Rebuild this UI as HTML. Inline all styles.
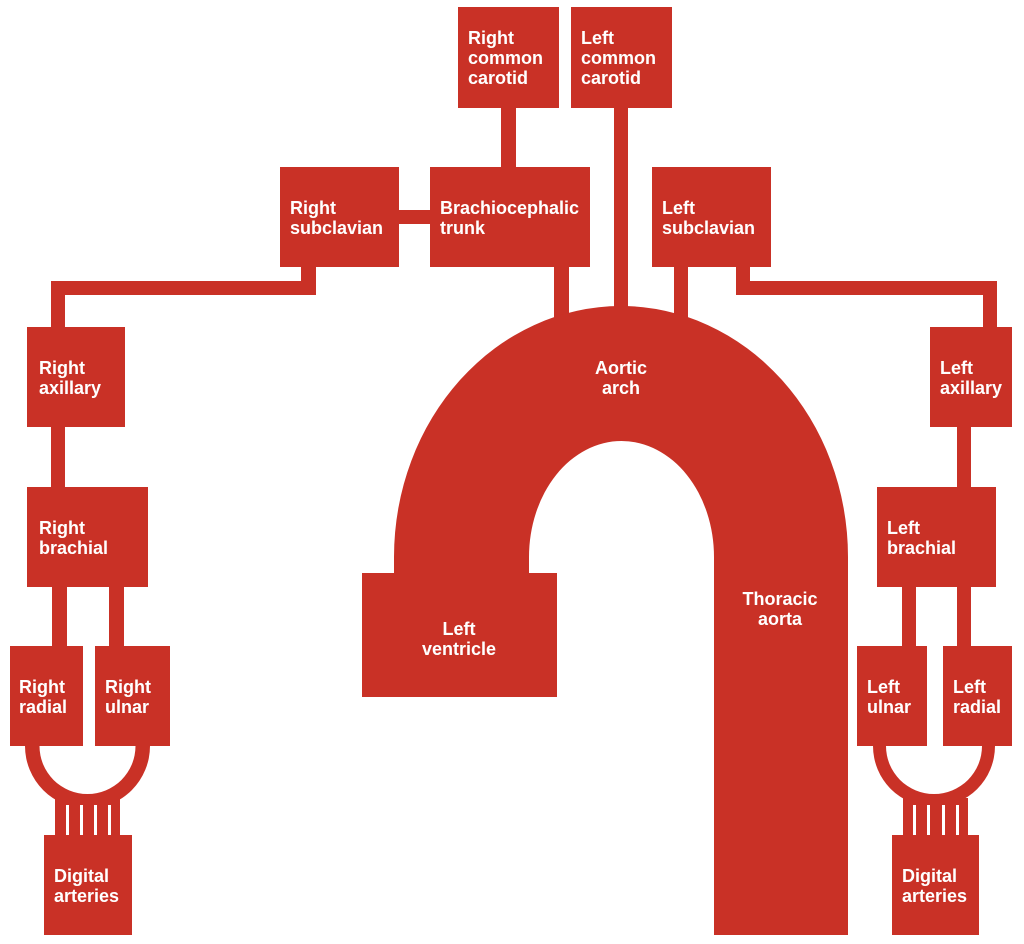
<!DOCTYPE html>
<html><head><meta charset="utf-8"><style>
html,body{margin:0;padding:0;background:#fff;}
svg{display:block;}
text{font-family:"Liberation Sans",Arial,sans-serif;font-weight:bold;font-size:18px;fill:#fff;}
</style></head><body>
<svg width="1024" height="944" viewBox="0 0 1024 944" xmlns="http://www.w3.org/2000/svg">
<g fill="#c93126">
<rect x="458" y="7" width="101" height="101"/>
<rect x="571" y="7" width="101" height="101"/>
<rect x="501" y="106" width="15" height="64"/>
<rect x="614" y="106" width="14" height="210"/>
<rect x="430" y="167" width="160" height="100"/>
<rect x="280" y="167" width="119" height="100"/>
<rect x="397" y="210" width="35" height="14"/>
<rect x="652" y="167" width="119" height="100"/>
<rect x="554" y="265" width="15" height="60"/>
<rect x="674" y="265" width="14" height="60"/>
<rect x="301" y="265" width="15" height="30"/>
<rect x="51" y="281" width="265" height="14"/>
<rect x="51" y="281" width="14" height="50"/>
<rect x="736" y="265" width="14" height="30"/>
<rect x="736" y="281" width="261" height="14"/>
<rect x="983" y="281" width="14" height="50"/>
<path d="M394 557 A227 251 0 0 1 848 557 L848 935 L714 935 L714 557 A92.5 116 0 0 0 529 557 L529 575 L394 575 Z"/>
<rect x="362" y="573" width="195" height="124"/>
<rect x="27" y="327" width="98" height="100"/>
<rect x="51" y="425" width="14" height="64"/>
<rect x="27" y="487" width="121" height="100"/>
<rect x="52" y="585" width="15" height="63"/>
<rect x="109" y="585" width="15" height="63"/>
<rect x="10" y="646" width="73" height="100"/>
<rect x="95" y="646" width="75" height="100"/>
<path d="M25 744 L25 746 A62.5 62.5 0 0 0 150 746 L150 744 L135.5 744 L135.5 746 A48 48 0 0 1 39.5 746 L39.5 744 Z"/>
<rect x="55" y="798" width="65" height="39"/>
<rect x="44" y="835" width="88" height="100"/>
<rect x="930" y="327" width="82" height="100"/>
<rect x="957" y="425" width="14" height="64"/>
<rect x="877" y="487" width="119" height="100"/>
<rect x="902" y="585" width="14" height="63"/>
<rect x="957" y="585" width="14" height="63"/>
<rect x="857" y="646" width="70" height="100"/>
<rect x="943" y="646" width="69" height="100"/>
<path d="M873 744 L873 746 A61 61 0 0 0 995 746 L995 744 L982 744 L982 746 A48 48 0 0 1 886 746 L886 744 Z"/>
<rect x="903" y="798" width="65" height="39"/>
<rect x="892" y="835" width="87" height="100"/>
</g>
<g fill="#fff">
<rect x="66" y="805" width="3" height="30"/>
<rect x="80" y="805" width="3" height="30"/>
<rect x="94" y="805" width="3" height="30"/>
<rect x="108" y="805" width="3" height="30"/>
<rect x="913" y="805" width="3" height="30"/>
<rect x="927" y="805" width="3" height="30"/>
<rect x="942" y="805" width="3" height="30"/>
<rect x="956" y="805" width="3" height="30"/>
</g>
<text x="468" y="44">Right</text><text x="468" y="64">common</text><text x="468" y="84">carotid</text>
<text x="581" y="44">Left</text><text x="581" y="64">common</text><text x="581" y="84">carotid</text>
<text x="290" y="214">Right</text><text x="290" y="234">subclavian</text>
<text x="440" y="214">Brachiocephalic</text><text x="440" y="234">trunk</text>
<text x="662" y="214">Left</text><text x="662" y="234">subclavian</text>
<text x="39" y="374">Right</text><text x="39" y="394">axillary</text>
<text x="39" y="534">Right</text><text x="39" y="554">brachial</text>
<text x="19" y="693">Right</text><text x="19" y="713">radial</text>
<text x="105" y="693">Right</text><text x="105" y="713">ulnar</text>
<text x="54" y="882">Digital</text><text x="54" y="902">arteries</text>
<text x="940" y="374">Left</text><text x="940" y="394">axillary</text>
<text x="887" y="534">Left</text><text x="887" y="554">brachial</text>
<text x="867" y="693">Left</text><text x="867" y="713">ulnar</text>
<text x="953" y="693">Left</text><text x="953" y="713">radial</text>
<text x="902" y="882">Digital</text><text x="902" y="902">arteries</text>
<g text-anchor="middle">
<text x="621" y="374">Aortic</text><text x="621" y="394">arch</text>
<text x="459" y="635">Left</text><text x="459" y="655">ventricle</text>
<text x="780" y="605">Thoracic</text><text x="780" y="625">aorta</text>
</g>
</svg>
</body></html>
